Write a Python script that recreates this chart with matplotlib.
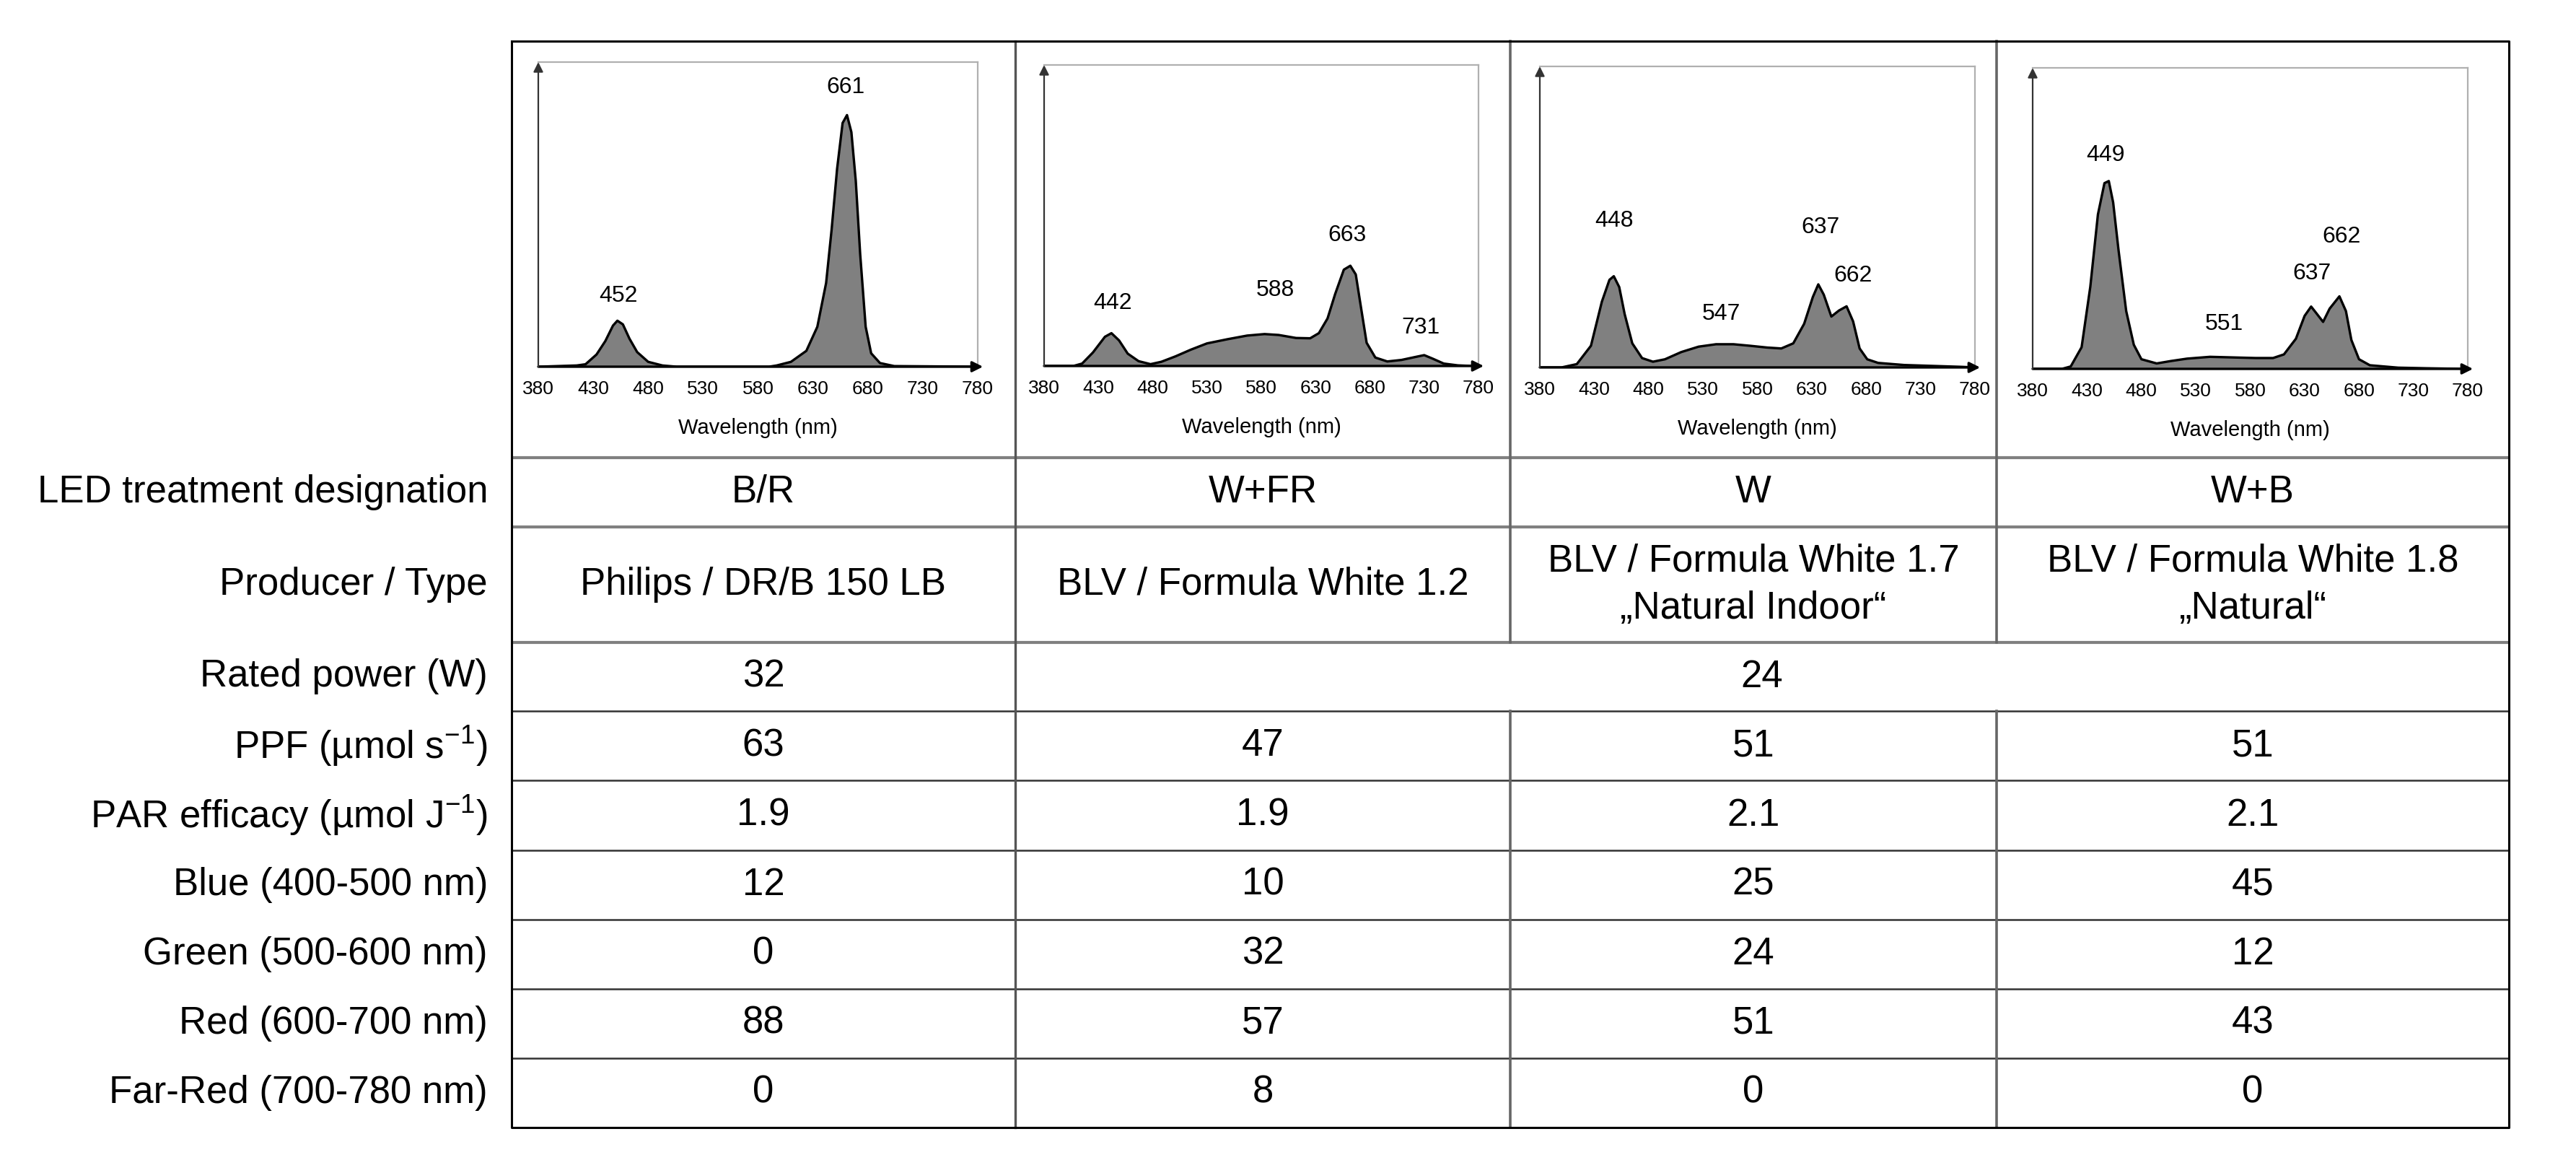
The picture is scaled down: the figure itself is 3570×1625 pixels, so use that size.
import matplotlib
matplotlib.use("Agg")
import matplotlib.pyplot as plt

plt.rcParams['font.family'] = ['Liberation Sans', 'DejaVu Sans']
plt.rcParams['mathtext.fontset'] = 'custom'
plt.rcParams['mathtext.rm'] = 'Liberation Sans'

# ---- spectra (relative intensity) ----
wl_br = [380, 415, 423, 433, 441, 448, 452, 457, 463, 470, 480, 493, 506, 590, 597, 610, 624, 634,
         642, 647, 652, 657, 661, 665, 669, 673, 678, 683, 691, 704, 780]
in_br = [0, 0.004, 0.008, 0.04, 0.084, 0.135, 0.151, 0.139, 0.092, 0.048, 0.016, 0.004, 0, 0, 0.004,
         0.016, 0.052, 0.131, 0.275, 0.45, 0.65, 0.80, 0.826, 0.77, 0.61, 0.37, 0.131, 0.044, 0.012,
         0.002, 0]

wl_wfr = [380, 407, 415, 425, 436, 442, 449, 457, 467, 478, 488, 501, 515, 530, 549, 567, 583, 596,
          612, 625, 633, 641, 648, 656, 662, 667, 672, 677, 685, 696, 709, 722, 730, 738, 748, 761, 774, 780]
in_wfr = [0, 0, 0.008, 0.045, 0.097, 0.109, 0.085, 0.041, 0.016, 0.006, 0.014, 0.032, 0.054, 0.075,
          0.089, 0.101, 0.106, 0.103, 0.093, 0.092, 0.109, 0.158, 0.239, 0.32, 0.333, 0.304, 0.19,
          0.077, 0.028, 0.015, 0.02, 0.03, 0.036, 0.024, 0.008, 0.002, 0, 0]

wl_w = [380, 400, 414, 427, 437, 444, 448, 453, 458, 465, 474, 484, 495, 510, 526, 542, 558, 573, 589,
        602, 613, 623, 631, 636, 641, 648, 655, 662, 668, 674, 681, 691, 715, 741, 767, 780]
in_w = [0, 0, 0.011, 0.072, 0.218, 0.291, 0.303, 0.267, 0.177, 0.08, 0.031, 0.019, 0.027, 0.051,
        0.069, 0.077, 0.077, 0.072, 0.066, 0.063, 0.08, 0.145, 0.234, 0.276, 0.242, 0.169, 0.189,
        0.203, 0.153, 0.063, 0.027, 0.015, 0.008, 0.005, 0.002, 0]

wl_wb = [380, 407, 415, 425, 433, 440, 446, 450, 454, 459, 466, 473, 480, 494, 507, 522, 543, 564, 585,
         601, 611, 622, 630, 636, 641, 647, 653, 662, 668, 673, 680, 690, 716, 742, 774, 780]
in_wb = [0, 0, 0.008, 0.072, 0.273, 0.513, 0.617, 0.624, 0.553, 0.393, 0.192, 0.08, 0.032, 0.018,
         0.026, 0.034, 0.04, 0.038, 0.036, 0.036, 0.048, 0.1, 0.176, 0.207, 0.184, 0.156, 0.2, 0.241,
         0.192, 0.096, 0.032, 0.012, 0.004, 0.002, 0, 0]

# peak labels: text, wavelength position, height position
pk_br = [('452', 453, 0.232), ('661', 660, 0.918)]
pk_wfr = [('442', 443, 0.209), ('588', 593, 0.251), ('663', 659, 0.435), ('731', 727, 0.126)]
pk_w = [('448', 448, 0.487), ('547', 547, 0.177), ('637', 638, 0.465), ('662', 668, 0.305)]
pk_wb = [('449', 447, 0.711), ('551', 556, 0.148), ('637', 637, 0.316), ('662', 664, 0.438)]

xticks = [380, 430, 480, 530, 580, 630, 680, 730, 780]

# ---- table ----
treatments = ['B/R', 'W+FR', 'W', 'W+B']
producers = ['Philips / DR/B 150 LB', 'BLV / Formula White 1.2',
             'BLV / Formula White 1.7\n\u201eNatural Indoor\u201c',
             'BLV / Formula White 1.8\n\u201eNatural\u201c']
rated_power = ['32', '24']
ppf = ['63', '47', '51', '51']
par_eff = ['1.9', '1.9', '2.1', '2.1']
blue = ['12', '10', '25', '45']
green = ['0', '32', '24', '12']
red = ['88', '57', '51', '43']
far_red = ['0', '8', '0', '0']
row_labels = ['LED treatment designation', 'Producer / Type', 'Rated power (W)',
              'PPF (\u00b5mol s$^{\\mathregular{-1}}$)',
              'PAR efficacy (\u00b5mol J$^{\\mathregular{-1}}$)',
              'Blue (400-500 nm)', 'Green (500-600 nm)', 'Red (600-700 nm)', 'Far-Red (700-780 nm)']

W, H = 3570, 1625
col_x = [709, 1407, 2093, 2767, 3477]
row_y = [57, 634, 730, 890, 985, 1081, 1178, 1274, 1370, 1466, 1562]

fig = plt.figure(figsize=(W / 100, H / 100), dpi=100)
tab = fig.add_axes([0, 0, 1, 1])
tab.set_xlim(0, W)
tab.set_ylim(H, 0)
tab.axis('off')

# horizontal lines
for i, y in enumerate(row_y[1:-1], start=1):
    if i <= 3:
        tab.plot([col_x[0], col_x[-1]], [y, y], color='#808080', lw=3.0, solid_capstyle='butt')
    else:
        tab.plot([col_x[0], col_x[-1]], [y, y], color='#333333', lw=1.8, solid_capstyle='butt')
# vertical lines (rated power merged over the three white lamps)
for j, x in enumerate(col_x[1:-1], start=1):
    if j == 1:
        tab.plot([x, x], [row_y[0], row_y[-1]], color='#555555', lw=2.4)
    else:
        tab.plot([x, x], [row_y[0], row_y[3]], color='#666666', lw=2.6)
        tab.plot([x, x], [row_y[4], row_y[-1]], color='#666666', lw=2.6)
# outer border
tab.plot([col_x[0], col_x[-1], col_x[-1], col_x[0], col_x[0]],
         [row_y[0], row_y[0], row_y[-1], row_y[-1], row_y[0]], color='black', lw=2.2)

fs = 38
centers = [(col_x[k] + col_x[k + 1]) / 2 for k in range(4)]
for i, lab in enumerate(row_labels):
    yc = (row_y[i + 1] + row_y[i + 2]) / 2
    tab.text(676, yc, lab, ha='right', va='center', fontsize=fs)

rows = [treatments, producers, None, ppf, par_eff, blue, green, red, far_red]
for i, vals in enumerate(rows):
    yc = (row_y[i + 1] + row_y[i + 2]) / 2
    if vals is None:
        tab.text(centers[0], yc, rated_power[0], ha='center', va='center', fontsize=fs)
        tab.text((col_x[1] + col_x[-1]) / 2, yc, rated_power[1], ha='center', va='center', fontsize=fs)
        continue
    for k, v in enumerate(vals):
        tab.text(centers[k], yc, v, ha='center', va='center', fontsize=fs, linespacing=1.4)

# ---- spectra panels ----
boxes = [(746, 1355, 86, 508), (1447, 2049, 90, 507), (2134, 2737, 92, 509), (2817, 3420, 94, 511)]
spectra = [(wl_br, in_br, pk_br), (wl_wfr, in_wfr, pk_wfr), (wl_w, in_w, pk_w), (wl_wb, in_wb, pk_wb)]

for (l, r, t, b), (wl, inten, peaks) in zip(boxes, spectra):
    ax = fig.add_axes([l / W, 1 - b / H, (r - l) / W, (b - t) / H])
    ax.fill_between(wl, inten, 0, color='#808080', lw=0)
    ax.plot(wl, inten, color='black', lw=2.4, solid_joinstyle='round')
    ax.set_xlim(380, 780)
    ax.set_ylim(0, 1)
    ax.set_xticks(xticks)
    ax.set_yticks([])
    ax.tick_params(axis='x', length=0, pad=14, labelsize=19)
    ax.set_xlabel('Wavelength (nm)', fontsize=21, labelpad=20)
    for s in ['left', 'bottom']:
        ax.spines[s].set_visible(False)
    for s in ['top', 'right']:
        ax.spines[s].set_color('#b0b0b0')
        ax.spines[s].set_linewidth(1.6)
    ax.annotate('', xy=(1.012, 0), xytext=(0, 0), xycoords='axes fraction',
                arrowprops=dict(arrowstyle='-|>', color='black', lw=2.4, mutation_scale=22,
                                shrinkA=0, shrinkB=0))
    ax.annotate('', xy=(0, 1.0), xytext=(0, 0), xycoords='axes fraction',
                arrowprops=dict(arrowstyle='-|>', color='#333333', lw=1.6, mutation_scale=20,
                                shrinkA=0, shrinkB=0))
    for txt, px, py in peaks:
        ax.text(px, py, txt, ha='center', va='center', fontsize=23)

fig.savefig('out.png', dpi=100)
